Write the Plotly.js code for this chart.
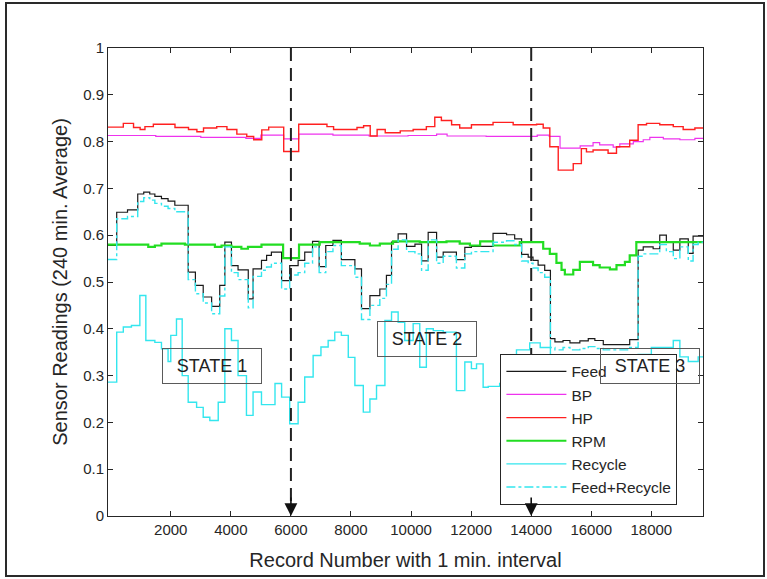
<!DOCTYPE html>
<html><head><meta charset="utf-8">
<script src="https://cdn.plot.ly/plotly-3.0.1.min.js"></script>
<style>
html,body{margin:0;padding:0;background:#fff;}
#wrap{position:relative;width:767px;height:579px;overflow:hidden;}
#chart{width:767px;height:579px;}
#frame{position:absolute;left:5px;top:2px;width:760px;height:575px;border:2px solid #2a2a2a;box-sizing:border-box;pointer-events:none;}
</style></head><body>
<div id="wrap"><div id="chart"></div><div id="frame"></div></div>
<script>
// ---- data (change points of the stair lines) ----
var feedX = [-90, 200, 560, 900, 1100, 1300, 1470, 1690, 1910, 2135, 2580, 2820, 3080, 3360, 3630, 3800, 4020, 4240, 4580, 4740, 5020, 5190, 5350, 5690, 5960, 6240, 6460, 6720, 6940, 7160, 7400, 7680, 8130, 8350, 8630, 8960, 9180, 9350, 9570, 9850, 10130, 10350, 10570, 10850, 11070, 11510, 11790, 12010, 12730, 13180, 13450, 13680, 13900, 14060, 14230, 14450, 14640, 14790, 15060, 15290, 15620, 15900, 16120, 16400, 17280, 17560, 17730, 18060, 18280, 18500, 18730, 18950, 19230, 19390, 19560, 19720];
var feedY = [0.578, 0.649, 0.654, 0.688, 0.692, 0.688, 0.683, 0.678, 0.673, 0.664, 0.521, 0.493, 0.468, 0.448, 0.493, 0.585, 0.535, 0.526, 0.464, 0.528, 0.546, 0.557, 0.564, 0.503, 0.535, 0.546, 0.564, 0.587, 0.533, 0.578, 0.589, 0.548, 0.528, 0.443, 0.471, 0.485, 0.514, 0.585, 0.603, 0.576, 0.581, 0.545, 0.606, 0.553, 0.564, 0.548, 0.574, 0.576, 0.604, 0.601, 0.592, 0.559, 0.553, 0.546, 0.536, 0.525, 0.379, 0.372, 0.375, 0.370, 0.374, 0.379, 0.375, 0.366, 0.377, 0.568, 0.575, 0.571, 0.600, 0.585, 0.568, 0.592, 0.561, 0.598, 0.598, 0.598];
var feedRecY = [0.548, 0.635, 0.640, 0.672, 0.680, 0.675, 0.668, 0.662, 0.657, 0.650, 0.505, 0.475, 0.455, 0.432, 0.470, 0.575, 0.520, 0.505, 0.445, 0.512, 0.525, 0.532, 0.540, 0.485, 0.515, 0.520, 0.540, 0.575, 0.520, 0.565, 0.578, 0.535, 0.510, 0.420, 0.450, 0.465, 0.495, 0.570, 0.590, 0.565, 0.560, 0.525, 0.590, 0.540, 0.555, 0.530, 0.560, 0.565, 0.585, 0.588, 0.580, 0.545, 0.540, 0.530, 0.520, 0.510, 0.360, 0.355, 0.360, 0.355, 0.358, 0.362, 0.358, 0.355, 0.360, 0.555, 0.560, 0.560, 0.580, 0.565, 0.550, 0.575, 0.545, 0.580, 0.585, 0.585];

var bpX = [-90, 1500, 3000, 4500, 5000, 5760, 6260, 7400, 8600, 9900, 10850, 11200, 12500, 14200, 14600, 14960, 15630, 16060, 16280, 16730, 16950, 17400, 17730, 17950, 18400, 18950, 19450, 19720];
var bpY = [0.813, 0.811, 0.809, 0.807, 0.814, 0.806, 0.816, 0.814, 0.812, 0.813, 0.816, 0.812, 0.811, 0.814, 0.811, 0.786, 0.791, 0.798, 0.793, 0.788, 0.795, 0.800, 0.804, 0.809, 0.806, 0.804, 0.807, 0.807];

var hpX = [-90, 420, 760, 980, 1140, 1420, 2140, 2590, 2870, 3090, 3530, 3870, 4200, 4530, 4760, 5030, 5260, 5760, 6260, 7200, 7420, 8200, 8420, 8640, 8870, 9140, 9640, 10070, 10510, 10790, 11010, 11350, 11620, 12010, 12730, 13400, 14180, 14400, 14620, 14900, 15400, 15670, 15840, 16060, 16560, 16840, 17280, 17560, 17840, 18280, 18730, 19060, 19450, 19720];
var hpY = [0.831, 0.839, 0.830, 0.826, 0.832, 0.837, 0.830, 0.826, 0.821, 0.829, 0.832, 0.826, 0.816, 0.811, 0.804, 0.825, 0.831, 0.779, 0.837, 0.832, 0.826, 0.830, 0.834, 0.812, 0.826, 0.819, 0.823, 0.826, 0.832, 0.852, 0.845, 0.836, 0.829, 0.836, 0.841, 0.836, 0.837, 0.829, 0.789, 0.739, 0.753, 0.785, 0.778, 0.782, 0.775, 0.789, 0.803, 0.836, 0.839, 0.836, 0.832, 0.826, 0.829, 0.829];

var rpmX = [-90, 1250, 1470, 1690, 2470, 3470, 3690, 4020, 4350, 4570, 5020, 5740, 6270, 6960, 8290, 8630, 8960, 9400, 10290, 11180, 11620, 11960, 12300, 12730, 13620, 14400, 14620, 14840, 15010, 15120, 15400, 15620, 16060, 16280, 16620, 16840, 17120, 17280, 17500, 19720];
var rpmY = [0.580, 0.575, 0.578, 0.582, 0.580, 0.575, 0.578, 0.575, 0.571, 0.575, 0.580, 0.551, 0.580, 0.585, 0.582, 0.578, 0.582, 0.587, 0.585, 0.587, 0.582, 0.578, 0.587, 0.578, 0.585, 0.571, 0.560, 0.541, 0.526, 0.516, 0.526, 0.543, 0.536, 0.531, 0.527, 0.536, 0.543, 0.557, 0.585, 0.585];

var recX = [-90, 200, 420, 690, 970, 1170, 1470, 1690, 1910, 2000, 2190, 2380, 2580, 2860, 3080, 3300, 3580, 3800, 4020, 4240, 4520, 4740, 5020, 5470, 5690, 5960, 6240, 6460, 6740, 7000, 7240, 7460, 7680, 7910, 8130, 8410, 8630, 8850, 9130, 9350, 9570, 9790, 10070, 10290, 10510, 10740, 11070, 11510, 11790, 12010, 12180, 12400, 12570, 12950, 13510, 13950, 14300, 14640, 17560, 18000, 18730, 18950, 19230, 19560, 19720];
var recY = [0.286, 0.393, 0.404, 0.407, 0.471, 0.375, 0.371, 0.357, 0.330, 0.386, 0.421, 0.300, 0.243, 0.232, 0.211, 0.204, 0.243, 0.400, 0.375, 0.300, 0.215, 0.265, 0.238, 0.283, 0.254, 0.197, 0.243, 0.297, 0.343, 0.361, 0.375, 0.393, 0.386, 0.339, 0.279, 0.222, 0.250, 0.279, 0.418, 0.436, 0.414, 0.375, 0.411, 0.318, 0.400, 0.396, 0.393, 0.268, 0.329, 0.315, 0.325, 0.275, 0.277, 0.283, 0.355, 0.370, 0.360, 0.330, 0.345, 0.360, 0.375, 0.340, 0.330, 0.340, 0.340];

var stateLines = [6000, 14000];
var stateLabels = ['STATE 1', 'STATE 2', 'STATE 3'];
var stateLabelX = [3366, 10540, 17946];
var stateLabelY = [0.320, 0.379, 0.320];
var xTicks = [2000, 4000, 6000, 8000, 10000, 12000, 14000, 16000, 18000];
var yTicks = [0, 0.1, 0.2, 0.3, 0.4, 0.5, 0.6, 0.7, 0.8, 0.9, 1];
var yTickText = ['0', '0.1', '0.2', '0.3', '0.4', '0.5', '0.6', '0.7', '0.8', '0.9', '1'];

var FONT = '"Liberation Sans", Arial, Helvetica, sans-serif';
function stair(name, x, y, color, width, dash) {
  return {type: 'scatter', mode: 'lines', name: name, x: x, y: y,
    line: {shape: 'hv', color: color, width: width, dash: dash || 'solid'}};
}
var traces = [
  stair('Feed', feedX, feedY, '#1a1a1a', 1.2),
  stair('BP', bpX, bpY, '#ee33ee', 1.2),
  stair('HP', hpX, hpY, '#ff2020', 1.4),
  stair('RPM', rpmX, rpmY, '#22dd22', 2.2),
  stair('Recycle', recX, recY, '#33e6ee', 1.4),
  stair('Feed+Recycle', feedX, feedRecY, '#33e6ee', 1.4, 'dashdot')
];

var shapes = stateLines.map(function (v) {
  return {type: 'line', xref: 'x', yref: 'y', x0: v, x1: v, y0: 1, y1: 0.02,
    line: {color: '#222', width: 2, dash: '13px,7px'}, layer: 'above'};
});
var annotations = stateLines.map(function (v) {
  return {x: v, y: 0, xref: 'x', yref: 'y', ax: 0, ay: -20, text: '', showarrow: true,
    arrowhead: 2, arrowsize: 1.6, arrowwidth: 1.6, arrowcolor: '#111', standoff: 0};
});
stateLabels.forEach(function (t, i) {
  annotations.push({x: stateLabelX[i], y: stateLabelY[i], xref: 'x', yref: 'y', text: t,
    showarrow: false, width: 98, height: 34, borderpad: 0, bordercolor: '#5a5a5a', borderwidth: 1,
    font: {family: FONT, size: 18, color: '#222'}});
});

var layout = {
  width: 767, height: 579,
  margin: {l: 108, r: 64, t: 48, b: 63},
  paper_bgcolor: '#fff', plot_bgcolor: '#fff',
  font: {family: FONT, size: 15, color: '#262626'},
  showlegend: true,
  legend: {x: 0.6595, y: 0.3467, xanchor: 'left', yanchor: 'top', bgcolor: '#fff',
    bordercolor: '#262626', borderwidth: 1, font: {family: FONT, size: 15.5, color: '#262626'},
    itemwidth: 60},
  xaxis: {range: [-90, 19720], tickvals: xTicks, ticktext: xTicks.map(String),
    ticks: 'inside', ticklen: 5, tickcolor: '#262626', showline: true, linecolor: '#262626',
    linewidth: 1, mirror: 'ticks', showgrid: false, zeroline: false,
    tickfont: {family: FONT, size: 15, color: '#262626'},
    title: {text: 'Record Number with 1 min. interval', standoff: 15,
      font: {family: FONT, size: 20, color: '#262626'}}},
  yaxis: {range: [0, 1], tickvals: yTicks, ticktext: yTickText,
    ticks: 'inside', ticklen: 5, tickcolor: '#262626', showline: true, linecolor: '#262626',
    linewidth: 1, mirror: 'ticks', showgrid: false, zeroline: false,
    tickfont: {family: FONT, size: 15, color: '#262626'},
    title: {text: 'Sensor Readings (240 min. Average)', standoff: 10,
      font: {family: FONT, size: 20, color: '#262626'}}},
  shapes: shapes,
  annotations: annotations
};
Plotly.newPlot('chart', traces, layout, {displayModeBar: false, staticPlot: true});
</script></body></html>
